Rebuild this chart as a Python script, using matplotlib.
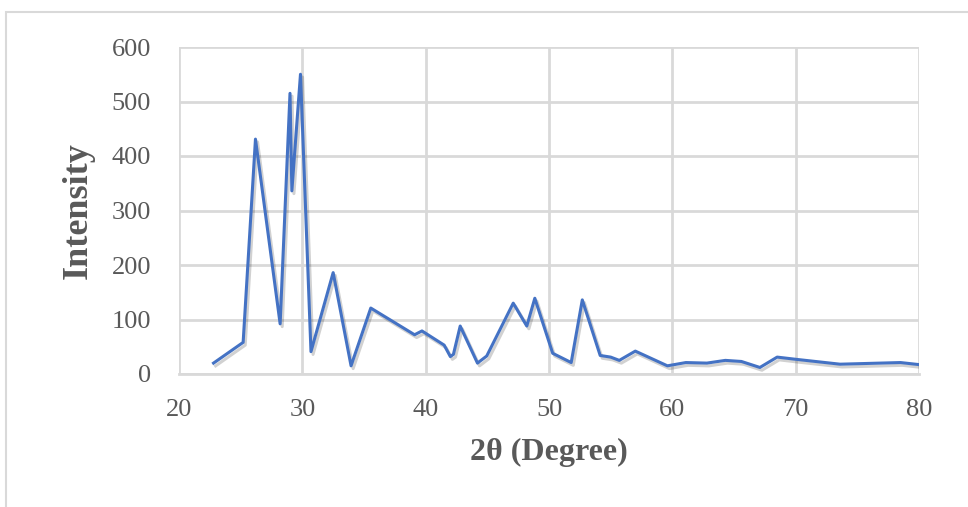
import matplotlib
matplotlib.use("Agg")
import matplotlib.pyplot as plt
import matplotlib.patheffects as pe
from matplotlib.patches import Rectangle

# XRD pattern
two_theta = [22.8, 25.2, 26.2, 28.2, 29.0, 29.15, 29.85, 30.7, 32.5, 33.95,
             35.55, 39.1, 39.7, 41.5, 42.0, 42.25, 42.8, 44.2, 44.95, 47.1,
             48.2, 48.85, 50.3, 51.8, 52.7, 54.15, 55.0, 55.7, 57.0, 59.6,
             61.1, 62.8, 64.3, 65.6, 67.1, 68.5, 70.0, 73.6, 78.5, 80.1]
intensity = [20, 58, 431, 92, 515, 336, 550, 41, 186, 15,
             121, 72, 79, 53, 32, 36, 88, 20, 33, 130,
             88, 139, 38, 21, 136, 34, 31, 25, 42, 15,
             21, 20, 25, 23, 12, 31, 27, 18, 21, 17]

x_ticks = [20, 30, 40, 50, 60, 70, 80]
y_ticks = [0, 100, 200, 300, 400, 500, 600]

text_col = "#595959"
grid_col = "#d9d9d9"

plt.rcParams['font.family'] = ['Liberation Serif', 'DejaVu Serif']

fig = plt.figure(figsize=(9.68, 5.07), dpi=100)
ax = fig.add_axes([179/968, 1 - 374/507, (919 - 179)/968, (374 - 47)/507])

# chart border (runs off the right and bottom edges)
fig.patches.append(Rectangle((6/968, -0.1), 1.2, 1.1 - 12/507, transform=fig.transFigure,
                             fill=False, edgecolor=grid_col, linewidth=1.5, clip_on=False))

ax.plot(two_theta, intensity, color="#4472C4", linewidth=2.2, zorder=3,
        path_effects=[pe.SimpleLineShadow(offset=(1.5, -2), shadow_color="#000000", alpha=0.18),
                      pe.Normal()])

ax.set_xlim(20, 80)
ax.set_ylim(0, 600)
ax.set_xticks(x_ticks)
ax.set_yticks(y_ticks)
ax.grid(True, color=grid_col, linewidth=2)
ax.set_axisbelow(True)

for s in ["top", "right", "left"]:
    ax.spines[s].set_visible(False)
ax.spines["bottom"].set_color(grid_col)
ax.spines["bottom"].set_linewidth(2)

ax.tick_params(axis="both", length=0, labelsize=19, labelcolor=text_col)
ax.tick_params(axis="y", pad=20)
ax.tick_params(axis="x", pad=18)

ax.set_xlabel("2θ (Degree)", fontsize=23, fontweight="bold", color=text_col, labelpad=12)
ax.set_ylabel("Intensity", fontsize=26, fontweight="bold", color=text_col, labelpad=12)

fig.savefig("out.png", dpi=100)
